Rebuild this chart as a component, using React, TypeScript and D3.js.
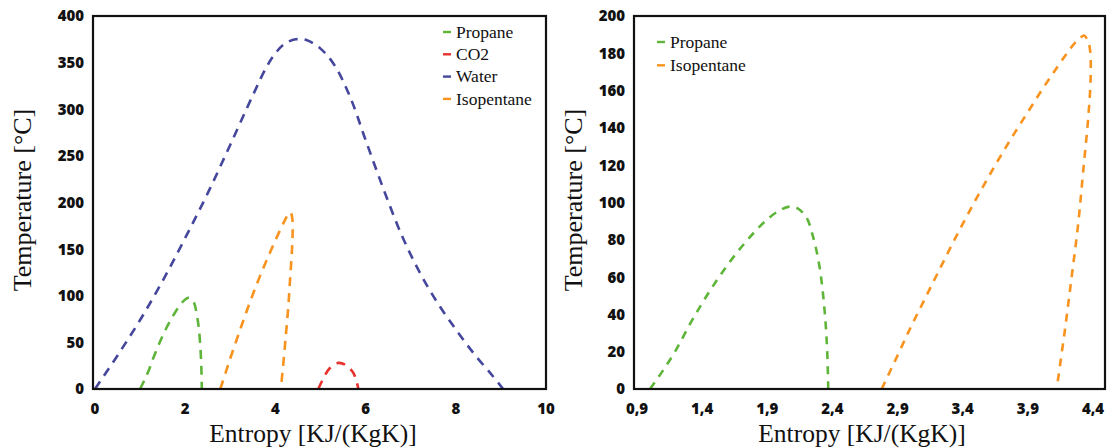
import React from "react";
import * as d3 from "d3";

// ---- data ----
const propaneS = [1.0, 1.1, 1.2, 1.3, 1.4, 1.5, 1.6, 1.7, 1.8, 1.9, 2.0, 2.07, 2.13, 2.2, 2.25, 2.3, 2.34, 2.36, 2.368];
const propaneT = [0, 10, 21, 34, 46, 57, 67, 76, 84, 91, 96, 97.8, 97, 92, 82, 66, 42, 20, 0];

const isoS = [2.778, 2.9, 3.0, 3.1, 3.2, 3.3, 3.4, 3.5, 3.6, 3.7, 3.8, 3.9, 4.0, 4.1, 4.2, 4.26, 4.3, 4.33, 4.36, 4.377, 4.382, 4.364, 4.325, 4.287, 4.236, 4.185, 4.121];
const isoT = [0, 18, 33, 47, 61, 75, 88.5, 101.5, 114, 126, 137.5, 148.5, 159.5, 170, 180, 185.5, 188, 189.5, 187, 182, 167, 146, 117, 89, 60, 32, 0];

const waterS = [0, 0.5, 1.0, 1.5, 2.0, 2.5, 3.0, 3.5, 3.8, 4.0, 4.2, 4.45, 4.7, 5.0, 5.3, 5.65, 6.0, 6.4, 6.8, 7.2, 7.6, 8.0, 8.4, 8.8, 9.05];
const waterT = [0, 36, 74, 116, 162, 210, 262, 315, 345, 360, 370, 375, 374, 365, 348, 314, 267, 214, 165, 125, 92, 64, 38, 15, 0];

const co2S = [4.95, 5.05, 5.2, 5.4, 5.58, 5.72, 5.8, 5.84];
const co2T = [0, 10, 22, 28, 25, 18, 8, 0];

const leftXTicks = [0, 2, 4, 6, 8, 10];
const leftYTicks = [0, 50, 100, 150, 200, 250, 300, 350, 400];
const rightXTicks = [0.9, 1.4, 1.9, 2.4, 2.9, 3.4, 3.9, 4.4];
const rightXLabels = ["0,9", "1,4", "1,9", "2,4", "2,9", "3,4", "3,9", "4,4"];
const rightYTicks = [0, 20, 40, 60, 80, 100, 120, 140, 160, 180, 200];

const leftLegend = ["Propane", "CO2", "Water", "Isopentane"];
const rightLegend = ["Propane", "Isopentane"];

const COLORS: Record<string, string> = {
  Propane: "#5fb53a",
  CO2: "#e8322e",
  Water: "#45479c",
  Isopentane: "#f7931e",
};

const zip = (s: number[], t: number[]) => s.map((v, i) => [v, t[i]] as [number, number]);

const TICK_FONT = "'Open Sans', Lato, sans-serif";
const SERIF = "'Liberation Serif', 'DejaVu Serif', serif";

function Panel(props: {
  frame: [number, number, number, number];
  x: d3.ScaleLinear<number, number>;
  y: d3.ScaleLinear<number, number>;
  xTicks: number[];
  xLabels: string[];
  yTicks: number[];
  series: { name: string; pts: [number, number][] }[];
  legend: string[];
  legendX: number;
  legendY: number;
  legendStep: number;
  yTitleX: number;
  xTitleX: number;
  dash: string;
}) {
  const { frame, x, y } = props;
  const [fl, ft, fr, fb] = frame;
  const line = d3
    .line<[number, number]>()
    .x((d) => x(d[0]))
    .y((d) => y(d[1]))
    .curve(d3.curveCatmullRom.alpha(0.5));
  return (
    <g>
      {props.series.map((s) => (
        <path
          key={s.name}
          d={line(s.pts) || ""}
          fill="none"
          stroke={COLORS[s.name]}
          strokeWidth={2.6}
          strokeDasharray={props.dash}
        />
      ))}
      <rect x={fl} y={ft} width={fr - fl} height={fb - ft} fill="none" stroke="#111" strokeWidth={2.2} />
      {props.yTicks.map((t) => (
        <text
          key={"y" + t}
          x={fl - 9}
          y={y(t)}
          dy="0.36em"
          textAnchor="end"
          fontFamily={TICK_FONT}
          fontWeight={800}
          fontSize={15}
          fill="#111"
        >
          {t}
        </text>
      ))}
      {props.xTicks.map((t, i) => (
        <text
          key={"x" + t}
          x={x(t)}
          y={fb + 25}
          textAnchor="middle"
          fontFamily={TICK_FONT}
          fontWeight={800}
          fontSize={15}
          fill="#111"
        >
          {props.xLabels[i]}
        </text>
      ))}
      <text
        transform={`translate(${props.yTitleX},200) rotate(-90)`}
        textAnchor="middle"
        fontFamily={SERIF}
        fontSize={26}
        fill="#111"
      >
        Temperature [°C]
      </text>
      <text x={props.xTitleX} y={442} textAnchor="middle" fontFamily={SERIF} fontSize={25.5} fill="#111">
        Entropy [KJ/(KgK)]
      </text>
      {props.legend.map((n, i) => (
        <g key={n}>
          <line
            x1={props.legendX}
            x2={props.legendX + 8}
            y1={props.legendY + i * props.legendStep}
            y2={props.legendY + i * props.legendStep}
            stroke={COLORS[n]}
            strokeWidth={2.4}
          />
          <text
            x={props.legendX + 13}
            y={props.legendY + i * props.legendStep}
            dy="0.33em"
            fontFamily={SERIF}
            fontSize={17.5}
            fill="#111"
          >
            {n}
          </text>
        </g>
      ))}
    </g>
  );
}

export default function App() {
  const xL = d3.scaleLinear().domain([0, 10]).range([95, 546]);
  const yL = d3.scaleLinear().domain([0, 400]).range([389, 16]);
  const xR = d3.scaleLinear().domain([0.9, 4.4]).range([637, 1093]);
  const yR = d3.scaleLinear().domain([0, 200]).range([389, 16]);

  const propane = zip(propaneS, propaneT);
  const iso = zip(isoS, isoT);
  const water = zip(waterS, waterT);
  const co2 = zip(co2S, co2T);

  return (
    <svg
      width={1109}
      height={448}
      style={{ position: "absolute", left: 0, top: 0, background: "#fff" }}
    >
      <Panel
        frame={[93, 16, 546, 389]}
        x={xL}
        y={yL}
        xTicks={leftXTicks}
        xLabels={leftXTicks.map(String)}
        yTicks={leftYTicks}
        series={[
          { name: "Water", pts: water },
          { name: "Propane", pts: propane },
          { name: "Isopentane", pts: iso },
          { name: "CO2", pts: co2 },
        ]}
        legend={leftLegend}
        legendX={443}
        legendY={32}
        legendStep={22.3}
        yTitleX={31}
        xTitleX={313}
        dash="9,7"
      />
      <Panel
        frame={[634, 16, 1105, 389]}
        x={xR}
        y={yR}
        xTicks={rightXTicks}
        xLabels={rightXLabels}
        yTicks={rightYTicks}
        series={[
          { name: "Propane", pts: propane },
          { name: "Isopentane", pts: iso },
        ]}
        legend={rightLegend}
        legendX={657}
        legendY={42}
        legendStep={23.3}
        yTitleX={582}
        xTitleX={862}
        dash="8,7"
      />
    </svg>
  );
}
